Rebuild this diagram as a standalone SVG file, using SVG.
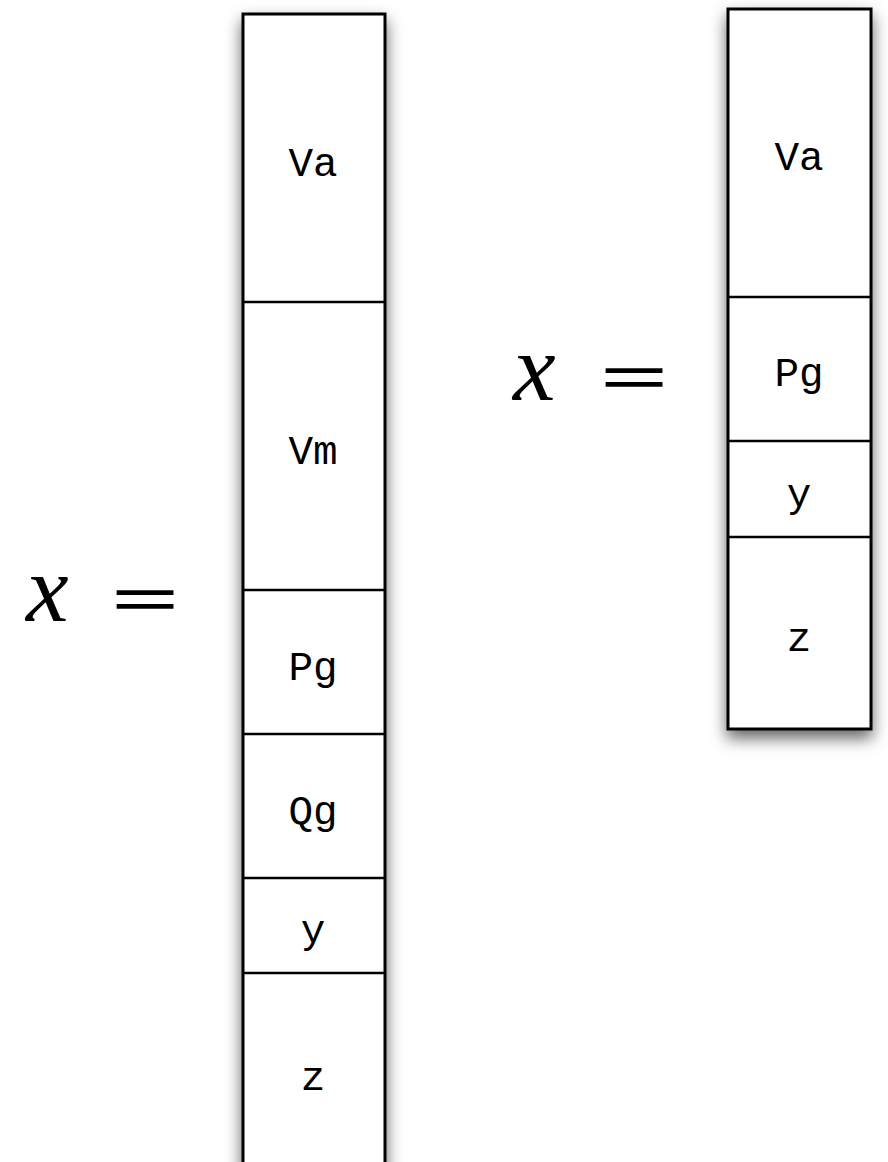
<svg xmlns="http://www.w3.org/2000/svg" width="888" height="1162" viewBox="0 0 888 1162">
<defs>
<filter id="sh" x="-30%" y="-10%" width="160%" height="130%">
<feDropShadow dx="0" dy="8" stdDeviation="8" flood-color="#000" flood-opacity="0.6"/>
</filter>
<style>
.col{fill:#fff;stroke:#000;stroke-width:3}
.div{stroke:#000;stroke-width:2.5}
.lbl{font-family:"Liberation Mono","Courier New",monospace;font-size:41px;text-anchor:middle;fill:#000}
.mx{font-family:"Liberation Serif","Times New Roman",serif;font-style:italic;font-size:96px;fill:#000}
.eq{font-family:"Liberation Serif","Times New Roman",serif;font-size:68px;fill:#000;stroke:#000;stroke-width:1.4}
</style>
</defs>
<g id="left-vector">
<rect class="col" x="243" y="14" width="142" height="1170" filter="url(#sh)"/>
<line class="div" x1="243" y1="302" x2="385" y2="302"/>
<line class="div" x1="243" y1="590" x2="385" y2="590"/>
<line class="div" x1="243" y1="734" x2="385" y2="734"/>
<line class="div" x1="243" y1="878" x2="385" y2="878"/>
<line class="div" x1="243" y1="973" x2="385" y2="973"/>
<text class="lbl" x="313" y="176">Va</text>
<text class="lbl" x="313" y="464">Vm</text>
<text class="lbl" x="313" y="680">Pg</text>
<text class="lbl" x="313" y="824">Qg</text>
<text class="lbl" x="313" y="943">y</text>
<text class="lbl" x="313" y="1090">z</text>
</g>
<g id="left-eq">
<text class="mx" x="26" y="621">x</text>
<text class="eq" x="112" y="622" textLength="66" lengthAdjust="spacingAndGlyphs">=</text>
</g>
<g id="right-vector">
<rect class="col" x="728" y="9" width="143" height="720" filter="url(#sh)"/>
<line class="div" x1="728" y1="297" x2="871" y2="297"/>
<line class="div" x1="728" y1="441" x2="871" y2="441"/>
<line class="div" x1="728" y1="537" x2="871" y2="537"/>
<text class="lbl" x="799" y="170">Va</text>
<text class="lbl" x="799" y="386">Pg</text>
<text class="lbl" x="799" y="507">y</text>
<text class="lbl" x="799" y="651">z</text>
</g>
<g id="right-eq">
<text class="mx" x="513" y="400">x</text>
<text class="eq" x="601" y="400" textLength="66" lengthAdjust="spacingAndGlyphs">=</text>
</g>
</svg>
